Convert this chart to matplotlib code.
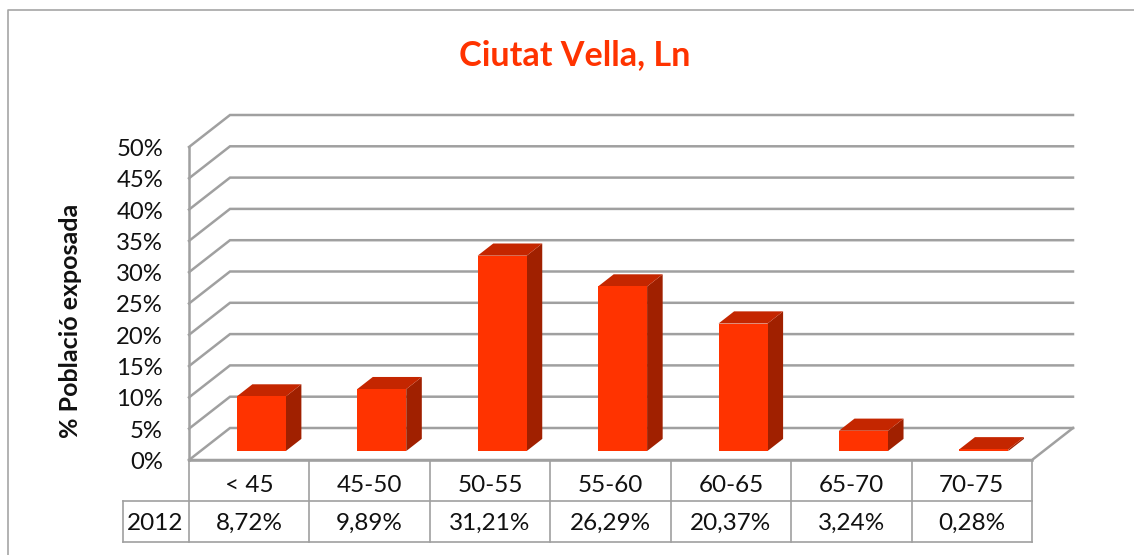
import matplotlib
matplotlib.use('Agg')
import matplotlib.pyplot as plt
from matplotlib.patches import Polygon

categories = ['< 45', '45-50', '50-55', '55-60', '60-65', '65-70', '70-75']
values = [8.72, 9.89, 31.21, 26.29, 20.37, 3.24, 0.28]
value_labels = ['8,72%', '9,89%', '31,21%', '26,29%', '20,37%', '3,24%', '0,28%']
yticks = [0, 5, 10, 15, 20, 25, 30, 35, 40, 45, 50]
series_name = '2012'

W, H = 1134, 555
GRID = '#a0a0a0'
FRONT = '#ff3300'
TOP = '#c42600'
SIDE = '#a02000'

plt.rcParams['font.family'] = ['Lato', 'DejaVu Sans']

fig = plt.figure(figsize=(W / 100, H / 100), dpi=100)

# full figure overlay in pixels, for frame and labels
bg = fig.add_axes([0, 0, 1, 1])
bg.set_xlim(0, W)
bg.set_ylim(H, 0)
bg.axis('off')
bg.plot([8, 8, W], [H, 10, 10], color='#a6a6a6', lw=1.2)

# front plane of the plot: x in categories, y in percent
x0, x1, y0, y1 = 189, 1032, 460, 147
ax = fig.add_axes([x0 / W, 1 - y0 / H, (x1 - x0) / W, (y0 - y1) / H])
ax.set_xlim(0, len(categories))
ax.set_ylim(0, 50)
ax.axis('off')

# oblique projection for depth (0 = front, 1 = back wall)
DX = 41 / ((x1 - x0) / len(categories))
DY = 32 / ((y0 - y1) / 50)


def proj(x, v, d):
    return (x + d * DX, v + d * DY)


def face(pts, color, z):
    ax.add_patch(Polygon(pts, closed=True, facecolor=color, edgecolor='none', zorder=z, clip_on=False))


n = len(categories)
for t in yticks:
    pts = [proj(0, t, 0), proj(0, t, 1), proj(n, t, 1)]
    ax.plot(*zip(*pts), color=GRID, lw=1.8, zorder=1, clip_on=False, solid_joinstyle='miter')
ax.plot([0, 0], [0, 50], color=GRID, lw=1.8, zorder=1, clip_on=False)
# floor
floor = [proj(0, 0, 0), proj(n, 0, 0), proj(n, 0, 1)]
ax.plot(*zip(*floor), color=GRID, lw=1.8, zorder=1, clip_on=False)

bar_w = 0.407
d_front, d_back = 0.28, 0.66
for i, v in enumerate(values):
    l = i + 0.505 - bar_w / 2
    r = i + 0.505 + bar_w / 2
    face([proj(r, 0, d_front), proj(r, 0, d_back), proj(r, v, d_back), proj(r, v, d_front)], SIDE, 3)
    face([proj(l, v, d_front), proj(r, v, d_front), proj(r, v, d_back), proj(l, v, d_back)], TOP, 4)
    face([proj(l, 0, d_front), proj(r, 0, d_front), proj(r, v, d_front), proj(l, v, d_front)], FRONT, 5)

for t in yticks:
    bg.text(163, y0 - (y0 - y1) * t / 50 + 2.5, f'{t}%', ha='right', va='center', fontsize=17.2, color='#111111')

# data table below the plot
row1, row2, row3 = 460, 500.5, 541.5
cell = (x1 - x0) / n
for i in range(n + 1):
    xx = x0 + i * cell
    bg.plot([xx, xx], [row1, row3], color=GRID, lw=1.2)
bg.plot([x0, x1], [row1, row1], color=GRID, lw=1.8)
bg.plot([123, x1], [row2, row2], color=GRID, lw=1.2)
bg.plot([123, x1], [row3, row3], color=GRID, lw=1.2)
bg.plot([123, 123], [row2, row3], color=GRID, lw=1.2)
for i, (c, lab) in enumerate(zip(categories, value_labels)):
    xc = x0 + (i + 0.5) * cell
    bg.text(xc, 486, c, ha='center', va='center', fontsize=17.5, color='#111111')
    bg.text(xc, 523, lab, ha='center', va='center', fontsize=17.5, color='#111111')
bg.text(155, 523, series_name, ha='center', va='center', fontsize=17.5, color='#111111')

bg.text(575, 55, 'Ciutat Vella, Ln', ha='center', va='center', fontsize=24.6, fontweight='bold', color=FRONT)
bg.text(70, 321, '% Població exposada', rotation=90, ha='center', va='center', fontsize=18, fontweight='bold', color='#111111')

fig.savefig('out.png', dpi=100)
